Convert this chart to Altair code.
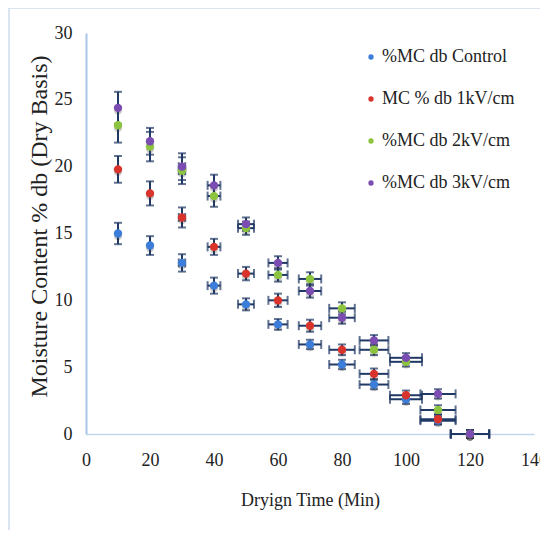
import altair as alt
import pandas as pd

# ---- data ----
time = [10, 20, 30, 40, 50, 60, 70, 80, 90, 100, 110, 120]
series_names = ["%MC db Control", "MC % db 1kV/cm", "%MC db 2kV/cm", "%MC db 3kV/cm"]
control = [15.0, 14.1, 12.8, 11.1, 9.7, 8.2, 6.7, 5.2, 3.7, 2.6, 1.0, 0.0]
kv1 = [19.8, 18.0, 16.2, 14.0, 12.0, 10.0, 8.1, 6.3, 4.5, 2.9, 1.1, 0.0]
kv2 = [23.1, 21.5, 19.7, 17.8, 15.4, 11.9, 11.6, 9.4, 6.3, 5.4, 1.8, 0.0]
kv3 = [24.4, 21.9, 20.0, 18.6, 15.7, 12.8, 10.7, 8.7, 7.0, 5.7, 3.0, 0.0]
err_control = [0.8, 0.7, 0.65, 0.6, 0.45, 0.4, 0.35, 0.35, 0.35, 0.35, 0.3, 0.3]
err_kv1 = [1.0, 0.9, 0.75, 0.6, 0.5, 0.5, 0.45, 0.4, 0.4, 0.35, 0.35, 0.3]
err_kv2 = [1.3, 1.1, 1.0, 0.8, 0.5, 0.5, 0.5, 0.45, 0.4, 0.35, 0.35, 0.3]
err_kv3 = [1.2, 1.0, 1.0, 0.8, 0.5, 0.5, 0.5, 0.45, 0.4, 0.35, 0.35, 0.3]
x_err = [0, 0, 1, 2, 2.5, 3, 3.5, 4, 4.5, 5, 5.5, 6]
colors = ["#3b7dd8", "#d8342c", "#8dc43f", "#7b4cb1"]
x_ticks = [0, 20, 40, 60, 80, 100, 120, 140]
y_ticks = [0, 5, 10, 15, 20, 25, 30]

rows = []
for order, (name, vals, errs) in enumerate(zip(series_names, [control, kv1, kv2, kv3],
                                               [err_control, err_kv1, err_kv2, err_kv3])):
    for t, v, e, xe in zip(time, vals, errs, x_err):
        rows.append(dict(series=name, order=order, time=t, mc=v, ylo=v - e, yhi=v + e,
                         xlo=t - xe, xhi=t + xe, xe=xe))
df = pd.DataFrame(rows)

FONT = "Liberation Serif"
BAR = "#1f3864"
TXT = "#222222"

xs = alt.Scale(domain=[0, 140], nice=False)
ys = alt.Scale(domain=[0, 30], nice=False)

base = alt.Chart(df)

x_enc = alt.X("time:Q", scale=xs, axis=alt.Axis(
    values=x_ticks, title="Dryign Time (Min)", domainColor="#c3d6ee", domainWidth=1.5,
    ticks=False, grid=False, labelPadding=17, labelFontSize=18, labelFlush=False,
    titleFontSize=18, titleY=66, titleBaseline="middle"))
y_enc = alt.Y("mc:Q", scale=ys, axis=alt.Axis(
    values=y_ticks, title="Moisture Content % db (Dry Basis)", domainColor="#a9c6ea",
    domainWidth=2, ticks=False, grid=False, labelPadding=14, labelFontSize=18,
    labelFlush=False, titleFontSize=24, titleX=-47, titleY=193,
    titleBaseline="middle"))

vbar = base.mark_rule(color=BAR, strokeWidth=2).encode(
    x=alt.X("time:Q", scale=xs), y=alt.Y("ylo:Q", scale=ys), y2="yhi:Q")
vcap_lo = base.mark_tick(color=BAR, orient="horizontal", size=8, thickness=2).encode(
    x=alt.X("time:Q", scale=xs), y=alt.Y("ylo:Q", scale=ys))
vcap_hi = base.mark_tick(color=BAR, orient="horizontal", size=8, thickness=2).encode(
    x=alt.X("time:Q", scale=xs), y=alt.Y("yhi:Q", scale=ys))

hbase = base.transform_filter("datum.xe > 0")
hbar = hbase.mark_rule(color=BAR, strokeWidth=2).encode(
    x=alt.X("xlo:Q", scale=xs), x2="xhi:Q", y=alt.Y("mc:Q", scale=ys))
hcap_lo = hbase.mark_tick(color=BAR, orient="vertical", size=9, thickness=2).encode(
    x=alt.X("xlo:Q", scale=xs), y=alt.Y("mc:Q", scale=ys))
hcap_hi = hbase.mark_tick(color=BAR, orient="vertical", size=9, thickness=2).encode(
    x=alt.X("xhi:Q", scale=xs), y=alt.Y("mc:Q", scale=ys))

shadow = base.mark_circle(color="#333333", opacity=0.25, size=70, yOffset=2.5).encode(
    x=alt.X("time:Q", scale=xs), y=alt.Y("mc:Q", scale=ys))

points = base.mark_circle(size=70, opacity=1).encode(
    x=x_enc, y=y_enc,
    color=alt.Color("series:N", scale=alt.Scale(domain=series_names, range=colors),
                    sort=series_names,
                    legend=alt.Legend(title=None, orient="none", legendX=276, legendY=15,
                                      padding=0, rowPadding=24, labelOffset=2,
                                      symbolSize=28, symbolType="circle",
                                      labelFontSize=18, labelLimit=300)),
    order=alt.Order("order:Q"))

frame_df = pd.DataFrame({"k": [0]})
frame_left = alt.Chart(frame_df).mark_rule(color="#cfdcec", strokeWidth=1.5).encode(
    x=alt.value(-77), y=alt.value(-25), y2=alt.value(520))
frame_top = alt.Chart(frame_df).mark_rule(color="#cfdcec", strokeWidth=1.5).encode(
    x=alt.value(-77), x2=alt.value(470), y=alt.value(-25))

chart = alt.layer(frame_left, frame_top, vbar, vcap_lo, vcap_hi, hbar, hcap_lo, hcap_hi,
                  shadow, points).properties(
    width=448, height=401,
    autosize=alt.AutoSizeParams(type="none"),
    padding={"left": 78, "top": 25, "right": 6, "bottom": 96},
).configure(
    background="white", font=FONT
).configure_view(
    stroke=None
).configure_axis(
    labelFont=FONT, titleFont=FONT, labelColor=TXT, titleColor=TXT,
    titleFontWeight="normal"
).configure_legend(
    labelFont=FONT, labelColor=TXT
)

chart.save("out.html", embed_options={"renderer": "svg", "actions": False})
